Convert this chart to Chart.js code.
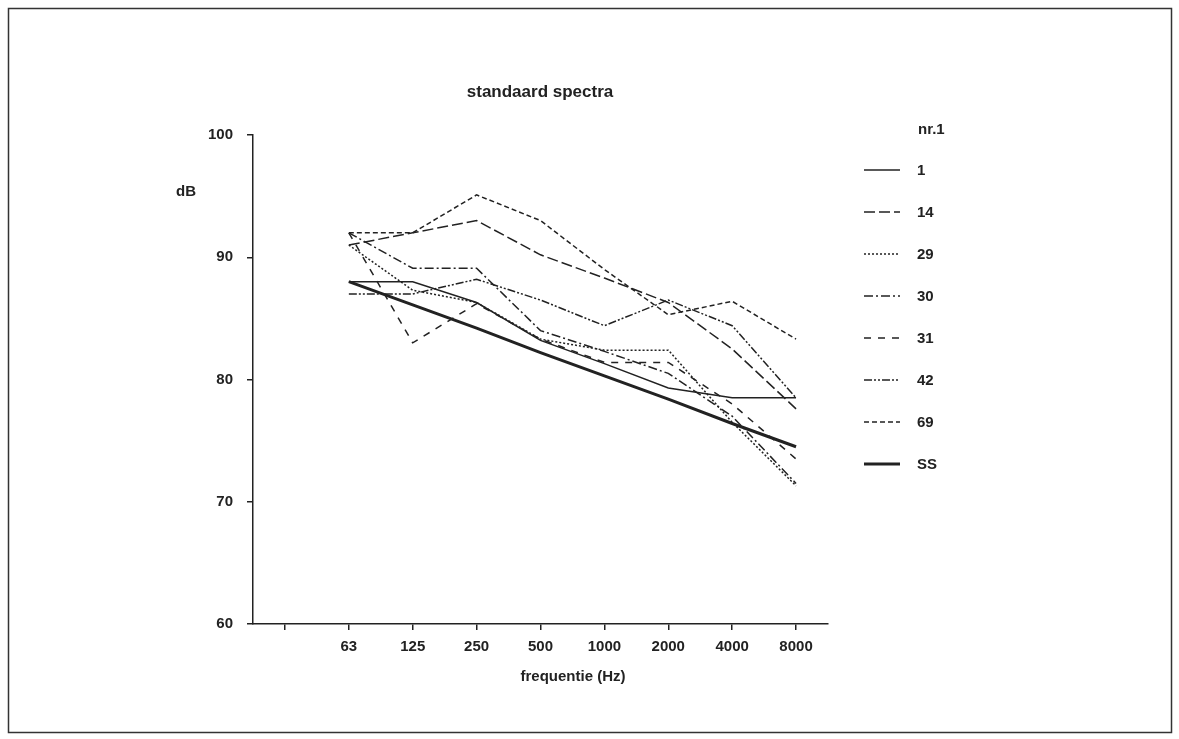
<!DOCTYPE html>
<html>
<head>
<meta charset="utf-8">
<script src="https://cdn.jsdelivr.net/npm/chart.js@4.4.1/dist/chart.umd.min.js"></script>
<style>
  html, body { margin: 0; padding: 0; background: #fff; }
  #wrap { width: 1179px; height: 739px; position: relative; }
</style>
</head>
<body>
<div id="wrap"><canvas id="c" width="1179" height="739"></canvas></div>
<script>
// ---- data ----
const categories = ['', '63', '125', '250', '500', '1000', '2000', '4000', '8000'];
const seriesNames = ['1', '14', '29', '30', '31', '42', '69', 'SS'];
const s1  = [null, 88.0, 88.0, 86.3, 83.2, 81.3, 79.3, 78.5, 78.5];
const s14 = [null, 91.0, 92.0, 93.0, 90.2, 88.3, 86.3, 82.5, 77.6];
const s29 = [null, 91.0, 87.3, 86.3, 83.3, 82.4, 82.4, 76.5, 71.3];
const s30 = [null, 92.0, 89.1, 89.1, 84.0, 82.3, 80.5, 77.0, 71.5];
const s31 = [null, 92.0, 83.0, 86.2, 83.3, 81.4, 81.4, 78.0, 73.5];
const s42 = [null, 87.0, 87.0, 88.2, 86.5, 84.4, 86.5, 84.4, 78.5];
const s69 = [null, 92.0, 92.0, 95.1, 93.0, 89.0, 85.3, 86.4, 83.3];
const sSS = [null, 88.0, 86.1, 84.2, 82.2, 80.3, 78.4, 76.4, 74.5];
const yTicks = [60, 70, 80, 90, 100];

const chartTitle = 'standaard spectra';
const xTitle = 'frequentie (Hz)';
const yTitle = 'dB';
const legendTitle = 'nr.1';

// ---- styles ----
const INK = '#222';
const FONT = "'Liberation Sans', Arial, sans-serif";
const styles = [
  { data: s1,  dash: [],                 width: 1.5 },
  { data: s14, dash: [11, 4],            width: 1.5 },
  { data: s29, dash: [2, 2],             width: 1.5 },
  { data: s30, dash: [9, 3, 2, 3],       width: 1.5 },
  { data: s31, dash: [7, 7],             width: 1.5 },
  { data: s42, dash: [8, 2, 2, 2, 2, 2], width: 1.5 },
  { data: s69, dash: [5, 3],             width: 1.5 },
  { data: sSS, dash: [],                 width: 3 }
];

const datasets = styles.map((s, i) => ({
  label: seriesNames[i],
  data: s.data,
  borderColor: INK,
  borderWidth: s.width,
  borderDash: s.dash,
  pointRadius: 0,
  tension: 0,
  fill: false
}));

const decor = {
  id: 'decor',
  beforeDraw(chart) {
    const ctx = chart.ctx;
    ctx.save();
    ctx.fillStyle = '#fff';
    ctx.fillRect(0, 0, chart.width, chart.height);
    ctx.strokeStyle = '#333';
    ctx.lineWidth = 1.5;
    ctx.strokeRect(8.5, 8.5, 1163, 724);
    ctx.restore();
  },
  afterDraw(chart) {
    const ctx = chart.ctx;
    ctx.save();
    ctx.fillStyle = INK;
    ctx.textBaseline = 'middle';
    // title
    ctx.textAlign = 'center';
    ctx.font = 'bold 17px ' + FONT;
    ctx.fillText(chartTitle, 540, 92);
    // y title
    ctx.font = 'bold 15px ' + FONT;
    ctx.fillText(yTitle, 186, 192);
    // x title
    ctx.fillText(xTitle, 573, 677);
    // legend
    ctx.textAlign = 'left';
    ctx.fillText(legendTitle, 918, 130);
    const x0 = 864, x1 = 900, ty = 170, step = 42;
    chart.data.datasets.forEach((ds, i) => {
      const y = ty + i * step;
      ctx.save();
      ctx.strokeStyle = ds.borderColor;
      ctx.lineWidth = ds.borderWidth;
      ctx.setLineDash(ds.borderDash || []);
      ctx.beginPath();
      ctx.moveTo(x0, y);
      ctx.lineTo(x1, y);
      ctx.stroke();
      ctx.restore();
      ctx.fillText(ds.label, 917, y + 1);
    });
    ctx.restore();
  }
};

new Chart(document.getElementById('c'), {
  type: 'line',
  data: { labels: categories, datasets },
  options: {
    responsive: false,
    animation: false,
    devicePixelRatio: 1,
    layout: { padding: { left: 153, right: 351, top: 135, bottom: 55 } },
    plugins: { legend: { display: false }, title: { display: false }, tooltip: { enabled: false } },
    scales: {
      x: {
        type: 'category',
        offset: true,
        afterFit(s) { s.height = 60; },
        grid: { display: true, drawOnChartArea: false, drawTicks: true, tickLength: 6, color: INK, lineWidth: 1.5, offset: false },
        border: { display: true, color: INK, width: 1.5 },
        ticks: { color: INK, font: { family: FONT, size: 15, weight: 'bold' }, padding: 8, autoSkip: false, maxRotation: 0 }
      },
      y: {
        min: 60, max: 100,
        afterFit(s) { s.width = 100; },
        afterBuildTicks(s) { s.ticks = yTicks.map(v => ({ value: v })); },
        grid: { display: true, drawOnChartArea: false, drawTicks: true, tickLength: 6, color: INK, lineWidth: 1.5 },
        border: { display: true, color: INK, width: 1.5 },
        ticks: { color: INK, font: { family: FONT, size: 15, weight: 'bold' }, padding: 14 }
      }
    }
  },
  plugins: [decor]
});
</script>
</body>
</html>
